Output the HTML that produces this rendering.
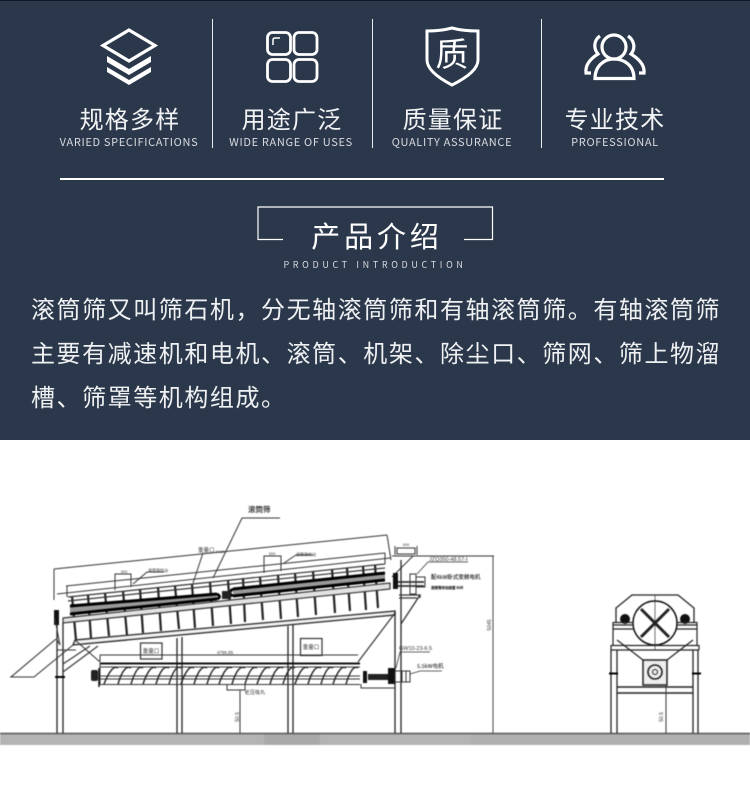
<!DOCTYPE html>
<html lang="zh"><head><meta charset="utf-8"><style>
html,body{margin:0;padding:0;background:#fff}
#p{position:relative;width:750px;height:810px;overflow:hidden;background:#fff;font-family:"Liberation Sans","Noto Sans CJK SC",sans-serif}
#d{position:absolute;left:0;top:0;width:750px;height:440px;background:#2b374a;border-top:1px solid #0c1727;box-sizing:border-box}
.t{position:absolute;white-space:nowrap;color:#fff;text-align:center;line-height:1}
.zh{font-family:"Noto Sans CJK SC",sans-serif;font-size:24px;letter-spacing:1.2px;top:106px;width:160px;font-weight:400;color:#f2f3f4}
.en{font-family:"Noto Sans CJK SC",sans-serif;font-size:11px;letter-spacing:.67px;top:137px;width:180px;color:#d8dbe0;font-weight:400}
.v{position:absolute;top:19px;width:1px;height:129px;background:#e8eaec}
.para{position:absolute;left:31px;font-family:"Noto Sans CJK SC",sans-serif;font-size:24px;letter-spacing:1.56px;color:#eef0f2;white-space:nowrap;line-height:44px;font-weight:400}
svg{position:absolute;left:0;top:0}
</style></head><body><div id="p">
<div id="d"></div>
<svg width="750" height="440" viewBox="0 0 750 440" fill="none" stroke="#fff">
<path d="M129 30 L155 45.500 L129 61 L103 45.500 Z" stroke-width="3.200"/>
<path d="M107 56 L129 69 L151 56 L151 62 L129 75 L107 62 Z" fill="#fff" stroke="none"/>
<path d="M107 67 L129 80 L151 67 L151 72 L129 85 L107 72 Z" fill="#fff" stroke="none"/>
<g stroke-width="2.800"><rect x="267.500" y="32.500" width="23" height="22" rx="5"/><rect x="294" y="32.500" width="23" height="22" rx="5"/><rect x="267.500" y="59.500" width="23" height="22" rx="5"/><rect x="294" y="59.500" width="23" height="22" rx="5"/></g>
<path d="M273 45 V40 Q273 38 275 38 H280" stroke-width="1.500"/>
<path d="M427 31 Q441 31 452 28 Q463 31 478 31 V60 Q478 72 452 85 Q427 72 427 60 Z" stroke-width="3"/>
<text x="452" y="66" fill="#fff" stroke="none" font-family="Noto Sans CJK SC" font-size="33" font-weight="400" text-anchor="middle">质</text>
<g stroke-width="3.200"><circle cx="614" cy="47" r="12"/><path d="M595 78.500 C595 66 604 59 614 59 C625 59 634 66 634 78.500 Z"/>
<path d="M600 36 C594 40 593 48 598 54 C590 59 585 65 586 73 L591 73"/><path d="M628 36 C634 40 636 48 631 54 C639 59 645 65 644 73 L639 73"/></g>
<g stroke="#fff" stroke-width="1.200"><path d="M258 240 V207 H492.500 V239.500 H464 M258 239.500 H283"/></g>
<rect x="60" y="178" width="604" height="2" fill="#fff" stroke="none"/>
</svg>
<div class="v" style="left:212px"></div><div class="v" style="left:372px"></div><div class="v" style="left:541px"></div>
<div class="t zh" style="left:50px">规格多样</div><div class="t zh" style="left:212px">用途广泛</div><div class="t zh" style="left:373px">质量保证</div><div class="t zh" style="left:535px">专业技术</div>
<div class="t en" style="left:39px">VARIED SPECIFICATIONS</div><div class="t en" style="left:201px">WIDE RANGE OF USES</div><div class="t en" style="left:362px">QUALITY ASSURANCE</div><div class="t en" style="left:525px">PROFESSIONAL</div>
<div class="t" style="left:277px;top:221px;width:200px;font-family:'Noto Sans CJK SC',sans-serif;font-size:29px;letter-spacing:3.900px;font-weight:400">产品介绍</div>
<div class="t" style="left:255px;top:260px;width:240px;font-family:'Noto Sans CJK SC',sans-serif;font-size:9px;letter-spacing:3.650px;color:#d8dbe0">PRODUCT INTRODUCTION</div>
<div class="para" style="top:286px">滚筒筛又叫筛石机，分无轴滚筒筛和有轴滚筒筛。有轴滚筒筛</div>
<div class="para" style="top:330px">主要有减速机和电机、滚筒、机架、除尘口、筛网、筛上物溜</div>
<div class="para" style="top:374px">槽、筛罩等机构组成。</div>

<svg width="750" height="810" viewBox="0 0 750 810" fill="none" stroke="#333" stroke-width="1" style="filter:blur(.5px)">
<rect x="0" y="733" width="750" height="12" fill="#b4b4b4" stroke="none"/>
<rect x="264" y="734" width="56" height="11" fill="#a9a9a9" stroke="none"/>
<rect x="470" y="734" width="280" height="11" fill="#b0b0b0" stroke="none"/>
<path d="M0 733.500 H750" stroke="#555" stroke-width="1.400"/>

<!-- dims -->
<path d="M54 569 L387 535 M54 569 V600 M387 535 L391 560"/>
<path d="M57 594 L390 558 M66 586 L385 553 M67 586 V597 M385 553 V564"/>
<path d="M115 590 V574 H131 V587 M264 573 V556 H281 V571"/>
<path d="M133 584 L147 572 H164 M284 563 L296 555 H313"/>
<text x="148" y="572" font-size="4" fill="#333" stroke="none" font-family="Noto Sans CJK SC">滚筒筛传动</text>
<text x="296" y="556" font-size="4" fill="#333" stroke="none" font-family="Noto Sans CJK SC">滚筒筛传动</text>
<text x="124" y="573" font-size="4" fill="#333" stroke="none" text-anchor="middle">300</text>
<text x="272" y="555" font-size="4" fill="#333" stroke="none" text-anchor="middle">300</text>
<text x="220" y="553" font-size="4" fill="#333" stroke="none" text-anchor="middle">6430</text>
<!-- labels -->
<text x="248" y="512" font-size="7.500" fill="#333" stroke="#333" stroke-width=".2" font-family="Noto Sans CJK SC">滚筒筛</text>
<path d="M280 518 H242 L213 578"/>
<text x="198" y="552" font-size="5.500" fill="#333" stroke="none" font-family="Noto Sans CJK SC">重量口</text>
<path d="M203 553 L193 583"/>
<!-- drum -->
<g stroke="#222" stroke-width="2.200">
<path d="M72 596 L76 640 M88 595 L91 638 M105 593 L109 636 M123 591 L127 635 M140 589 L143 633 M158 587 L161 631 M175 586 L179 629 M192 584 L195 628 M210 582 L213 626 M228 580 L231 624 M243 578 L245 622 M260 577 L263 620 M278 575 L281 619 M295 573 L298 617 M313 571 L316 615 M332 569 L335 613 M347 568 L350 611 M363 566 L366 610 M375 565 L378 608"/>
</g>
<path d="M68 597 L385 564 M68 601 L385 568" stroke-width="1.200"/>
<path d="M70 610 L217 596.500 M233 592.500 L385 576.500" stroke="#999" stroke-width="5"/>
<path d="M70 606 L217 594 M70 614 L217 599 M233 589 L385 573 M233 596 L385 580" stroke="#000" stroke-width="3"/>
<path d="M217 594 Q222 597 217 599 M233 589 Q227 593 233 596" stroke="#000" stroke-width="2.800"/>
<rect x="222" y="591" width="9" height="8" fill="#222" stroke="none"/>
<path d="M63 618 L390 583 L390 589 L63 623 Z" fill="#e2e2e2" stroke-width="1.200"/>
<path d="M75 640 L395 611 L395 615 L73 645 Z" fill="#f2f2f2" stroke-width="1.400"/>
<!-- legs -->
<path d="M57 620 V733 M63 623 V733 M177 638 V733 M182 637 V733 M288 626 V733 M293 625 V733 M395 612 V733 M401 560 C401 590 401 620 401 733" stroke-width="1.300" stroke="#222"/>
<path d="M55 677 H65" stroke="#000" stroke-width="2"/>
<!-- left end -->
<rect x="54" y="610" width="5" height="15" fill="#111" stroke="none"/>
<path d="M55 619 L60 645 L57 640"/>
<path d="M56 639 L11 677 H34 L73 645 M63 672 L98 646 M63 664 L90 646 M57 650 H76" stroke-width="1.100"/>
<path d="M75 640 L100 662" stroke-width="1.100"/>
<!-- boxes -->
<rect x="140.500" y="643" width="21.500" height="16" stroke-width="1.200"/><text x="151" y="653" font-size="5.500" fill="#333" stroke="none" text-anchor="middle" font-family="Noto Sans CJK SC">重量口</text>
<rect x="300.500" y="638.500" width="21.500" height="17" stroke-width="1.200"/><text x="311" y="649" font-size="5.500" fill="#333" stroke="none" text-anchor="middle" font-family="Noto Sans CJK SC">重量口</text>
<!-- conveyor -->
<path d="M100 655 H358 M100 655 V662"/>
<text x="225" y="654" font-size="4.500" fill="#333" stroke="none" text-anchor="middle">4796.85</text>
<path d="M100 663.500 H360" stroke="#111" stroke-width="2"/>
<path d="M100 667 H360 M100 684.500 H360 M100 676 H360 M100 679 H360 M100 663 V685"/>
<path d="M358 662 L395 613" stroke-width="1.200"/>
<g stroke="#222" stroke-width="1.400"><path d="M104 684 Q112 664 118 668 M118 684 Q124 664 131 668 M131 684 Q137 664 143 668 M143 684 Q150 664 156 668 M156 684 Q162 664 169 668 M169 684 Q175 664 181 668 M181 684 Q188 664 194 668 M194 684 Q200 664 207 668 M207 684 Q213 664 219 668 M219 684 Q226 664 232 668 M232 684 Q238 664 245 668 M245 684 Q251 664 257 668 M257 684 Q264 664 270 668 M270 684 Q276 664 283 668 M283 684 Q289 664 295 668 M295 684 Q302 664 308 668 M308 684 Q314 664 321 668 M321 684 Q327 664 333 668 M333 684 Q340 664 346 668 M346 684 Q352 664 358 668"/></g>
<rect x="91" y="670" width="7" height="11" rx="2" fill="#222" stroke="none"/><path d="M99 668 V687" stroke="#111" stroke-width="1.500"/>
<path d="M227 685 V690 H245 V685 M240 690 V733 M245 692 H247"/>
<text x="245" y="694" font-size="5" fill="#333" stroke="none" font-family="Noto Sans CJK SC">正压吸丸</text>
<text transform="translate(239,717) rotate(-90)" font-size="5" fill="#333" stroke="none" text-anchor="middle">50.5</text>
<!-- motor -->
<rect x="363" y="671" width="4" height="12" fill="#111" stroke="none"/>
<rect x="368" y="674" width="20" height="6" fill="#222" stroke="none"/>
<rect x="388" y="668" width="7" height="16" fill="#111" stroke="none"/>
<rect x="395" y="671" width="15" height="11"/><path d="M402 671 V682 M406 671 V682"/>
<path d="M361 684 V688 H395"/>
<path d="M410 674 L420 671 H442 M396 668 L400 652 H430" stroke-width=".8"/>
<text x="399" y="650" font-size="5.500" fill="#333" stroke="none">GW10-23-6.5</text>
<text x="417" y="668" font-size="5.500" fill="#333" stroke="#333" stroke-width=".1" font-family="Noto Sans CJK SC">5.5kW电机</text>
<!-- top right -->
<path d="M392 556 H494 M493 556 V733" stroke-width=".9"/>
<rect x="397" y="548" width="18" height="6"/><path d="M395 546 V555 M417 546 V555 M392 577 L413 556"/>
<text x="406" y="546" font-size="4" fill="#333" stroke="none" text-anchor="middle">300</text>
<rect x="393" y="573" width="5" height="16" fill="#111" stroke="none"/>
<path d="M398 582 H424 M398 586 H424" stroke-width="1.800" stroke="#333"/>
<rect x="410" y="574" width="6" height="20"/><rect x="416" y="577" width="9" height="10"/>
<path d="M417 574 L428 562 H468" stroke-width=".8"/>
<text x="429" y="561" font-size="5.500" fill="#333" stroke="none">JZQ350-48.57-I</text>
<text x="431" y="579" font-size="5.500" fill="#333" stroke="#333" stroke-width=".15" font-family="Noto Sans CJK SC">配4kW卧式变频电机</text>
<text x="431" y="589" font-size="3.500" fill="#333" stroke="#333" stroke-width=".2" font-family="Noto Sans CJK SC">滚筒筛传动装置 4kW</text>
<path d="M399 595 H420 L401 624 M399 598 H417 M420 595 V598" stroke-width="1.300"/>
<text transform="translate(491,625) rotate(-90)" font-size="5" fill="#333" stroke="none" text-anchor="middle">5045</text>
<!-- right view -->
<path d="M616 622 V608 L632 595 H678 L694 608 V622" stroke-width="1.300" stroke="#222"/><path d="M655 595 V650" stroke-width=".7"/>
<circle cx="655" cy="623" r="22" stroke="#111" stroke-width="1.500"/>
<path d="M641 609 L669 637 M669 609 L641 637" stroke="#222" stroke-width="3"/>
<circle cx="625" cy="619" r="5" fill="#111" stroke="none"/><circle cx="685" cy="619" r="5" fill="#111" stroke="none"/>
<path d="M613 622.500 H633 M677 622.500 H697 M613 625 H634 M676 625 H697 M613 629 H634 M676 629 H697 M613 622 V645 M697 622 V645" stroke="#222" stroke-width="1.200"/>
<path d="M611 645.500 H699 M611 650 H699 M611 645 V650 M699 645 V650" stroke-width="1.200" stroke="#222"/>
<path d="M617 640 L643 660 M693 640 L667 660" stroke="#222" stroke-width="1.200"/>
<rect x="643" y="660" width="24" height="25" stroke="#222" stroke-width="1.500" fill="#eee"/>
<circle cx="655" cy="672" r="7" stroke="#222" stroke-width="1.600"/><circle cx="655" cy="672" r="2.500" stroke="#222"/>
<path d="M611 650 V733 M617 650 V733 M693 650 V733 M698 650 V733" stroke="#222" stroke-width="1.300"/>
<path d="M617 687 H693 M617 693 H693" stroke="#222" stroke-width="1.400"/>
<path d="M609 673.500 H618 M692 673.500 H701" stroke="#000" stroke-width="2"/>
<path d="M666 685 V733"/>
<text transform="translate(663,717) rotate(-90)" font-size="5" fill="#333" stroke="none" text-anchor="middle">50.5</text>
</svg>
</div></body></html>
